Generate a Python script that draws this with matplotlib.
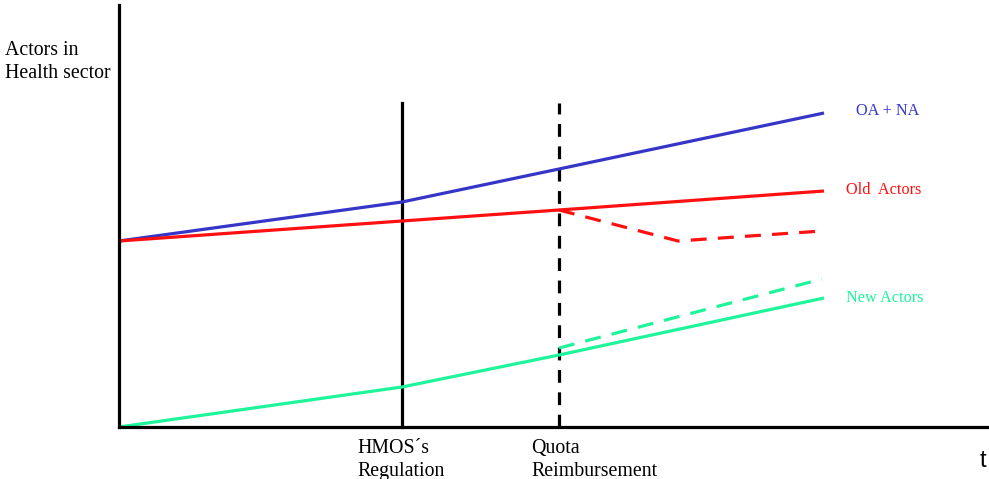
import matplotlib
matplotlib.use("Agg")
import matplotlib.pyplot as plt

# time positions (arbitrary units) and actor levels
t_points = [0, 283, 440, 705]
oa_na = [186, 225, 258, 314]
old_actors = [186, 206, 217, 236]
new_actors = [0, 40, 72, 129]
t_old_alt = [440, 559, 703]
old_alt = [217, 186, 196]
t_new_alt = [440, 703]
new_alt = [79, 148]
events = [283, 440]
event_labels = ["HMOS\u00b4s\nRegulation", "Quota\nReimbursement"]
event_styles = ["-", "--"]
event_top = 324

BLUE = "#3535c8"
RED = "#ff1010"
GREEN = "#1ef59a"

fig = plt.figure(figsize=(9.89, 4.79), dpi=100)
ax = fig.add_axes([119/989, 52/479, 870/989, 422/479])
ax.set_xlim(0, 870)
ax.set_ylim(0, 422)
for s in ["top", "right"]:
    ax.spines[s].set_visible(False)
for s in ["left", "bottom"]:
    ax.spines[s].set_linewidth(2.3)
    ax.spines[s].set_color("black")
ax.set_xticks([])
ax.set_yticks([])

serif = ["Liberation Serif", "DejaVu Serif"]

for x, ls in zip(events, event_styles):
    ax.plot([x, x], [0, event_top], color="black", lw=2.3, ls=ls,
            dashes=(4, 3) if ls == "--" else (None, None), clip_on=False)

ax.plot(t_points, oa_na, color=BLUE, lw=2.3, solid_capstyle="butt")
ax.plot(t_points, old_actors, color=RED, lw=2.3, solid_capstyle="butt")
ax.plot(t_points, new_actors, color=GREEN, lw=2.3, solid_capstyle="butt")
ax.plot(t_old_alt, old_alt, color=RED, lw=2.3, ls="--", dashes=(5, 3.5))
ax.plot(t_new_alt, new_alt, color=GREEN, lw=2.3, ls="--", dashes=(5, 3.5))

ax.text(737, 316, "OA + NA", color=BLUE, fontsize=11.7, family=serif, va="center")
ax.text(727, 237, "Old  Actors", color=RED, fontsize=11.7, family=serif, va="center")
ax.text(727, 129, "New Actors", color=GREEN, fontsize=11.7, family=serif, va="center")

for x, lab in zip(events, event_labels):
    ax.text(x - 45 if x == 283 else x - 28, -12, lab, fontsize=14.3, family=serif,
            va="top", ha="left", linespacing=1.32)

fig.text(5/989, 1 - 41/479, "Actors in\nHealth sector", fontsize=14.3, family=serif,
         va="top", ha="left", linespacing=1.32)
fig.text(986/989, 1 - 461/479, "t", fontsize=17, family=["Liberation Sans", "DejaVu Sans"],
         va="center", ha="right")

fig.savefig("out.png", dpi=100)
